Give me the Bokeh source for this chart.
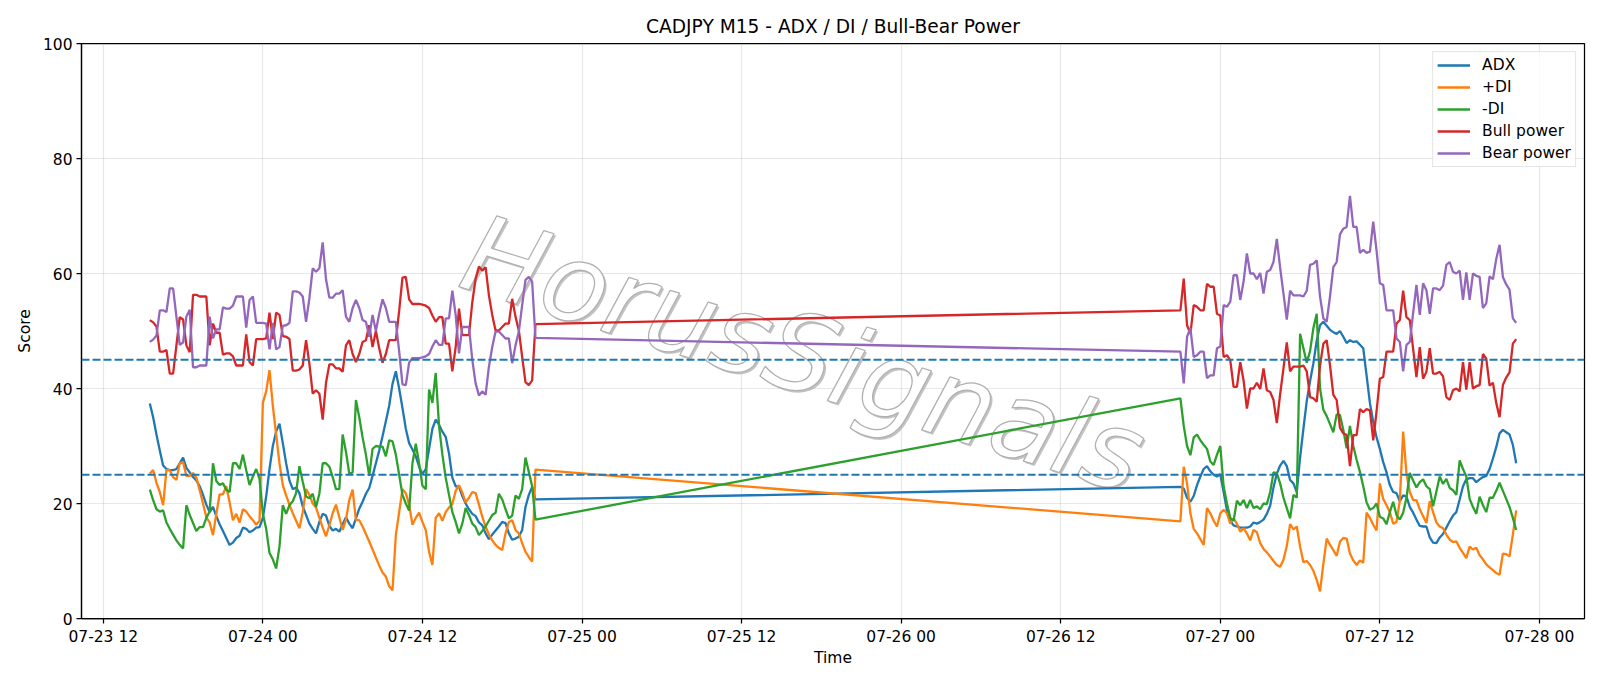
import pandas as pd
from bokeh.plotting import figure
from bokeh.models import (Range1d, FixedTicker, DatetimeTickFormatter, Span,
                          Legend, LegendItem, ColumnDataSource)
from bokeh.embed import file_html
from bokeh.resources import INLINE

# ---------------- data ----------------
title_text = "CADJPY M15 - ADX / DI / Bull-Bear Power"
left_start = "2025-07-23 15:30"
right_start = "2025-07-26 21:00"
step = "15min"
tick_start = "2025-07-23 12:00"
tick_end = "2025-07-28 00:00"
y_ticks = [0, 20, 40, 60, 80, 100]
levels = [45, 25]

adx_left = [37.4, 35.0, 32.0, 29.2, 26.6, 26.0, 25.8, 25.8, 26.0, 27.0,
            28.0, 26.2, 25.4, 24.6, 24.0, 23.0, 21.5, 19.8, 18.5, 19.4,
            17.8, 16.4, 15.2, 14.0, 12.8, 13.2, 14.0, 14.4, 15.8, 15.6,
            15.0, 15.3, 15.8, 15.9, 17.5, 21.2, 26.0, 30.0, 32.5, 33.9,
            30.5, 27.0, 24.0, 22.5, 22.8, 21.8, 19.5, 18.0, 16.5, 15.6,
            14.8, 16.8, 18.2, 17.9, 16.1, 15.3, 15.6, 15.1, 16.4, 17.6,
            16.5, 15.7, 17.4, 19.1, 20.3, 21.7, 22.7, 24.8, 27.0, 29.2,
            31.7, 34.3, 37.0, 40.8, 43.0, 40.0, 36.6, 33.0, 30.5,
            29.4, 28.2, 26.4, 25.1, 26.0, 29.5, 33.0, 34.6, 33.7, 32.5,
            31.6, 28.7, 24.5, 23.0, 22.9, 21.3, 20.0, 19.0, 18.2, 17.8,
            16.7, 16.2, 14.8, 13.8, 14.6, 15.3, 16.0, 16.8, 16.6, 14.8,
            13.7, 13.9, 14.2, 15.4, 19.4, 21.5, 22.9, 20.7]
adx_right = [22.9, 22.6, 21.0, 20.3, 21.3, 23.2, 24.7, 26.0, 26.5, 25.6,
             25.0, 24.7, 25.1, 22.0, 18.8, 17.0, 16.2, 16.0, 15.8,
             15.8, 15.8, 16.0, 16.7, 16.5, 16.8, 17.2, 18.2, 19.6, 22.8,
             25.2, 26.6, 27.4, 26.5, 24.1, 23.5, 22.0, 28.0, 33.0, 37.8,
             41.3, 44.4, 48.3, 51.0, 51.6, 50.9, 50.2, 49.8, 49.5, 50.0,
             49.0, 47.9, 48.4, 48.1, 48.2, 47.6, 47.0, 42.3, 37.5, 34.2,
             31.5, 29.5, 27.2, 25.4, 23.2, 22.0, 21.8, 20.4, 21.4, 21.2,
             19.4, 18.4, 17.2, 16.1, 16.0, 16.0, 14.1, 13.2, 13.1, 14.1,
             14.7, 15.8, 16.9, 17.9, 18.5, 20.7, 23.0, 24.2, 24.4, 24.4,
             23.7, 24.2, 24.6, 24.8, 26.0, 27.8, 29.8, 32.2, 32.8, 32.4,
             32.0, 30.2, 27.0]

plus_di_left = [25.2, 25.8, 23.6, 22.0, 19.7, 25.8, 25.8, 24.6, 24.1, 27.0,
                27.2, 24.8, 24.8, 25.3, 24.5, 22.3, 20.0, 17.6, 16.7, 14.5,
                18.2, 21.6, 21.6, 23.0, 20.2, 17.1, 18.2, 16.7, 19.0, 18.6,
                17.8, 17.1, 16.3, 17.0, 37.5, 39.5, 43.2, 37.0, 32.0, 27.0,
                23.2, 21.4, 19.8, 18.3, 17.0, 15.7, 18.5, 22.5, 21.5, 20.0,
                19.3, 17.5, 15.8, 14.3, 16.2, 18.3, 19.8, 17.6, 15.4, 17.2,
                20.6, 22.4, 17.1, 17.1, 16.0, 14.7, 13.4, 12.0, 10.6, 9.2,
                8.0, 7.3, 5.6, 4.9, 14.5, 18.5, 22.5, 21.8, 19.8,
                16.3, 17.5, 18.4, 16.8, 15.4, 11.6, 9.3, 17.5, 18.3, 17.0,
                18.5, 19.3, 19.9, 22.2, 23.2, 21.9, 20.2, 21.0, 22.0, 21.8,
                19.8, 17.7, 16.0, 14.6, 13.6, 12.8, 12.3, 11.9, 14.8, 16.8,
                17.1, 15.4, 14.8, 13.1, 11.6, 10.7, 9.9, 25.9]
plus_di_right = [16.9, 26.4, 23.5, 18.3, 15.6, 14.8, 13.8, 12.8, 19.2, 18.3,
                 17.0, 16.0, 18.3, 18.9, 18.3, 16.5, 17.4, 16.5, 15.1,
                 15.7, 14.8, 13.6, 15.4, 15.0, 13.1, 12.1, 11.5, 10.8, 10.0,
                 9.3, 9.0, 10.2, 12.6, 16.4, 15.5, 16.0, 12.5, 9.8, 10.0,
                 9.3, 8.3, 6.7, 4.7, 9.5, 13.9, 12.8, 11.9, 10.9, 13.4,
                 14.0, 13.9, 11.3, 10.1, 9.3, 10.1, 9.7, 18.4, 17.5, 16.3,
                 15.3, 23.5, 20.8, 19.7, 18.5, 16.5, 16.8, 20.5, 32.5, 25.2,
                 22.0, 20.6, 20.6, 19.0, 17.8, 16.6, 20.4, 18.5, 16.7, 16.0,
                 15.7, 14.6, 13.7, 13.3, 13.4, 12.3, 11.4, 10.5, 12.5, 12.0,
                 12.3, 11.0, 10.3, 9.4, 8.9, 8.4, 7.9, 7.6, 11.3, 11.2,
                 10.8, 14.6, 18.8]

minus_di_left = [22.4, 20.6, 19.0, 18.6, 18.8, 16.7, 15.6, 14.6, 13.6, 12.8,
                 12.2, 19.7, 18.0, 16.6, 15.2, 15.9, 15.9, 17.5, 18.6, 27.0,
                 23.9, 23.2, 23.5, 22.4, 22.0, 27.0, 27.0, 26.0, 28.5, 25.8,
                 23.2, 24.7, 26.0, 24.3, 18.2, 15.6, 11.4, 10.3, 8.7, 12.5,
                 19.7, 18.2, 19.7, 20.4, 21.8, 26.5, 23.8, 21.2, 20.9, 21.7,
                 19.4, 21.7, 27.0, 27.0, 26.4, 24.6, 22.5, 22.5, 32.0, 29.0,
                 25.2, 25.4, 38.0, 35.0, 31.5, 28.5, 24.8, 29.5, 30.0, 29.9,
                 29.9, 28.2, 31.0, 30.8, 28.5, 25.0, 21.5, 20.0, 18.8,
                 27.0, 30.4, 27.0, 23.1, 22.5, 39.8, 37.5, 42.7, 33.5, 28.5,
                 24.5, 21.5, 18.5, 16.8, 14.8, 16.5, 19.2, 18.0, 16.5, 15.9,
                 14.5, 15.2, 16.0, 17.0, 18.0, 18.4, 21.7, 20.7, 19.0, 17.4,
                 17.9, 21.4, 20.8, 22.5, 28.0, 25.5, 23.0, 17.2]
minus_di_right = [38.3, 33.5, 30.0, 28.4, 31.5, 32.0, 31.0, 30.2, 29.5, 27.3,
                  26.7, 28.5, 30.0, 23.0, 20.0, 17.5, 17.0, 20.5, 19.7,
                  20.6, 19.2, 20.6, 19.2, 19.5, 19.0, 20.0, 19.9, 22.0, 25.4,
                  25.3, 23.5, 21.0, 19.2, 17.4, 21.5, 21.0, 49.5, 47.0, 44.5,
                  46.5, 50.5, 53.0, 40.0, 36.3, 35.2, 33.8, 32.4, 35.5, 35.4,
                  32.8, 29.6, 33.5, 30.0, 27.6, 25.5, 23.0, 20.2, 18.9, 19.2,
                  20.0, 17.7, 17.4, 16.4, 18.5, 20.3, 18.0, 17.2, 18.4, 21.0,
                  25.3, 24.0, 22.8, 23.7, 24.2, 23.0, 22.5, 19.5, 22.1, 24.7,
                  23.4, 24.3, 22.7, 22.3, 21.5, 27.5, 26.0, 24.7, 20.8, 19.4,
                  18.2, 21.2, 19.7, 18.5, 21.0, 21.0, 22.2, 23.6, 22.2, 20.8,
                  19.4, 17.5, 15.4]

bull_left = [51.9, 51.5, 50.8, 46.4, 46.4, 46.7, 42.6, 42.6, 47.5, 52.4,
             52.0, 47.5, 46.3, 56.3, 56.3, 56.0, 56.0, 56.0, 47.5, 51.3,
             49.7, 49.7, 45.9, 46.1, 46.1, 45.6, 44.0, 44.0, 44.0, 49.4,
             44.6, 44.0, 48.6, 48.6, 48.6, 48.7, 53.2, 48.6, 53.2, 52.8,
             49.1, 49.0, 48.6, 43.1, 43.1, 43.3, 44.0, 48.4, 44.3, 39.1,
             39.7, 39.1, 34.6, 41.0, 44.2, 44.2, 43.5, 43.5, 42.9, 47.5,
             48.4, 46.0, 44.6, 46.0, 48.1, 48.4, 51.0, 47.2, 50.0, 47.0,
             44.5, 46.0, 48.4, 48.4, 48.4, 53.5, 59.3, 59.4, 55.5,
             54.7, 54.7, 54.7, 54.6, 54.4, 54.0, 52.7, 51.6, 52.4, 52.4,
             47.8, 47.8, 43.0, 47.2, 53.9, 49.3, 49.3, 49.3, 55.0, 59.1,
             61.2, 60.5, 61.1, 56.2, 52.8, 50.1, 50.1, 50.7, 51.3, 51.3,
             55.6, 52.5, 50.1, 45.5, 41.1, 40.6, 41.4, 51.2]
bull_right = [53.6, 59.1, 51.0, 49.5, 54.5, 54.2, 53.6, 53.6, 58.2, 57.7,
              57.7, 53.0, 52.7, 45.5, 45.8, 44.9, 40.3, 40.3, 44.6,
              41.4, 36.5, 40.0, 40.0, 41.0, 39.9, 43.5, 39.7, 39.4, 38.0,
              34.0, 39.0, 43.5, 48.0, 43.0, 43.8, 43.8, 43.8, 44.0, 43.0,
              38.5, 38.3, 37.7, 44.0, 47.8, 48.4, 44.0, 38.9, 38.0, 33.2,
              32.2, 31.9, 26.5, 31.9, 31.9, 36.4, 35.9, 36.4, 36.2, 31.0,
              36.0, 41.7, 42.0, 46.4, 46.4, 46.4, 51.3, 51.9, 57.0, 52.4,
              51.9, 46.9, 42.0, 47.2, 41.7, 42.9, 47.0, 42.6, 42.6, 42.9,
              42.1, 38.5, 38.0, 39.7, 40.0, 39.5, 44.6, 39.8, 44.6, 40.0,
              40.4, 40.6, 46.0, 45.2, 40.5, 41.0, 37.5, 35.0, 40.6, 41.9,
              42.8, 47.8, 48.6]

bear_left = [48.1, 48.5, 49.2, 53.6, 53.6, 53.3, 57.4, 57.4, 52.5, 47.6,
             48.0, 52.5, 53.7, 43.7, 43.7, 44.0, 44.0, 44.0, 52.5, 48.7,
             50.3, 50.3, 54.1, 53.9, 53.9, 54.4, 56.0, 56.0, 56.0, 50.6,
             55.4, 56.0, 51.4, 51.4, 51.4, 51.3, 46.8, 51.4, 46.8, 47.2,
             50.9, 51.0, 51.4, 56.9, 56.9, 56.7, 56.0, 51.6, 55.7, 60.9,
             60.3, 60.9, 65.4, 59.0, 55.8, 55.8, 56.5, 56.5, 57.1, 52.5,
             51.6, 54.0, 55.4, 54.0, 51.9, 51.6, 49.0, 52.8, 50.0, 53.0,
             55.5, 54.0, 51.6, 51.6, 51.6, 46.5, 40.7, 40.6, 44.5,
             45.3, 45.3, 45.3, 45.4, 45.6, 46.0, 47.3, 48.4, 47.6, 47.6,
             52.2, 52.2, 57.0, 52.8, 46.1, 50.7, 50.7, 50.7, 45.0, 40.9,
             38.8, 39.5, 38.9, 43.8, 47.2, 49.9, 49.9, 49.3, 48.7, 48.7,
             44.4, 47.5, 49.9, 54.5, 58.9, 59.4, 58.6, 48.8]
bear_right = [46.4, 40.9, 49.0, 50.5, 45.5, 45.8, 46.4, 46.4, 41.8, 42.3,
              42.3, 47.0, 47.3, 54.5, 54.2, 55.1, 59.7, 59.7, 55.4,
              58.6, 63.5, 60.0, 60.0, 59.0, 60.1, 56.5, 60.3, 60.6, 62.0,
              66.0, 61.0, 56.5, 52.0, 57.0, 56.2, 56.2, 56.2, 56.0, 57.0,
              61.5, 61.7, 62.3, 56.0, 52.2, 51.6, 56.0, 61.1, 62.0, 66.8,
              67.8, 68.1, 73.5, 68.1, 68.1, 63.6, 64.1, 63.6, 63.8, 69.0,
              64.0, 58.3, 58.0, 53.6, 53.6, 53.6, 48.7, 48.1, 43.0, 47.6,
              48.1, 53.1, 58.0, 52.8, 58.3, 57.1, 53.0, 57.4, 57.4, 57.1,
              57.9, 61.5, 62.0, 60.3, 60.0, 60.5, 55.4, 60.2, 55.4, 60.0,
              59.6, 59.4, 54.0, 54.8, 59.5, 59.0, 62.5, 65.0, 59.4, 58.1,
              57.2, 52.2, 51.4]

series_names = ["ADX", "+DI", "-DI", "Bull power", "Bear power"]
series_colors = ["#1f77b4", "#ff7f0e", "#2ca02c", "#d62728", "#9467bd"]
watermark_text = "HorusSignals"

# ---------------- build ----------------
times = (list(pd.date_range(left_start, periods=len(adx_left), freq=step)) +
         list(pd.date_range(right_start, periods=len(adx_right), freq=step)))
src = ColumnDataSource(dict(
    t=times,
    adx=adx_left + adx_right,
    pdi=plus_di_left + plus_di_right,
    mdi=minus_di_left + minus_di_right,
    bull=bull_left + bull_right,
    bear=bear_left + bear_right,
))

t0, t1 = times[0], times[-1]
pad = (t1 - t0) * 0.05
x_range = Range1d(t0 - pad, t1 + pad)

FONT = "DejaVu Sans"
TICK_FS = "15.5px"
p = figure(width=1600, height=686, x_axis_type="datetime",
           output_backend="svg", toolbar_location=None,
           x_range=x_range, y_range=Range1d(0, 100),
           min_border_left=81, min_border_right=16,
           min_border_top=43, min_border_bottom=68)
p.background_fill_color = "white"
p.border_fill_color = "white"

p.title.text = title_text
p.title.align = "center"
p.title.text_font = FONT
p.title.text_font_size = "18.6px"
p.title.text_font_style = "normal"
p.title.text_color = "black"
p.title.standoff = 13

ticks = [int(ts.value // 10**6) for ts in pd.date_range(tick_start, tick_end, freq="12h")]
p.xaxis.ticker = FixedTicker(ticks=ticks)
fmt = "%m-%d %H"
p.xaxis.formatter = DatetimeTickFormatter(
    milliseconds=fmt, seconds=fmt, minsec=fmt, minutes=fmt, hourmin=fmt,
    hours=fmt, days=fmt, months=fmt, years=fmt)
p.yaxis.ticker = FixedTicker(ticks=y_ticks)
p.xaxis.axis_label = "Time"
p.yaxis.axis_label = "Score"

for ax in (p.xaxis[0], p.yaxis[0]):
    ax.major_label_text_font = FONT
    ax.major_label_text_font_size = TICK_FS
    ax.major_label_text_color = "black"
    ax.axis_label_text_font = FONT
    ax.axis_label_text_font_size = TICK_FS
    ax.axis_label_text_font_style = "normal"
    ax.axis_label_text_color = "black"
    ax.axis_line_color = "black"
    ax.axis_line_width = 1.25
    ax.major_tick_line_color = "black"
    ax.major_tick_line_width = 1.25
    ax.major_tick_out = 5
    ax.major_tick_in = 0
    ax.minor_tick_line_color = None
    ax.major_label_standoff = 4
p.xaxis[0].axis_label_standoff = 0
p.yaxis[0].axis_label_standoff = 6

p.outline_line_color = "black"
p.outline_line_width = 1.25
p.outline_line_alpha = 1.0

for g in (p.xgrid[0], p.ygrid[0]):
    g.grid_line_color = "#b0b0b0"
    g.grid_line_alpha = 0.3
    g.grid_line_width = 1.2

# watermark (drawn first, under the lines)
wm_x = [pd.Timestamp("2025-07-25 16:40")]
wm_y = [46.0]
p.text(x=wm_x, y=wm_y, text=[watermark_text], angle=-0.30,
       text_align="center", text_baseline="middle",
       text_font=dict(value=FONT), text_font_style="italic",
       text_font_size="108px", text_color="#aaaaaa", text_alpha=0.7,
       x_offset=2, y_offset=2)
p.text(x=wm_x, y=wm_y, text=[watermark_text], angle=-0.30,
       text_align="center", text_baseline="middle",
       text_font=dict(value=FONT), text_font_style="italic",
       text_font_size="108px", text_color="white", text_alpha=1.0,
       text_outline_color="#b0b0b0")

renderers = []
for col, name, color in zip(["adx", "pdi", "mdi", "bull", "bear"], series_names, series_colors):
    r = p.line("t", col, source=src, line_color=color, line_width=2.3)
    renderers.append((name, r))

for lv in levels:
    p.add_layout(Span(location=lv, dimension="width", line_color="#1f77b4",
                      line_dash="8 3", line_width=1.9))

legend = Legend(items=[LegendItem(label=n, renderers=[r]) for n, r in renderers],
                location="top_right")
legend.label_text_font = FONT
legend.label_text_font_size = TICK_FS
legend.label_text_color = "black"
legend.glyph_width = 33
legend.glyph_height = 18
legend.label_height = 18
legend.label_standoff = 12
legend.spacing = 4
legend.padding = 4
legend.margin = 8
legend.border_line_color = "#cccccc"
legend.border_line_width = 1.2
legend.background_fill_alpha = 0.8
p.add_layout(legend)

open("out.html", "w").write(file_html(p, INLINE))
